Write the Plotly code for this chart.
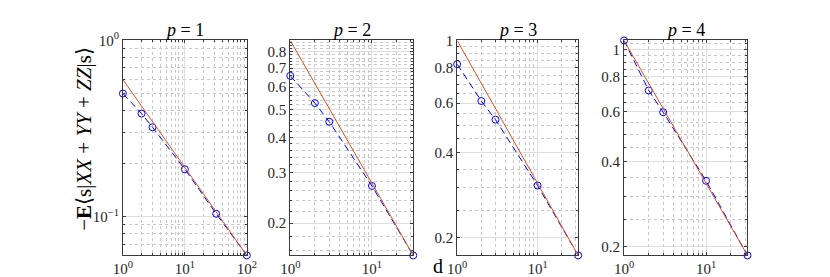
import plotly.graph_objects as go
import math

W, H = 830, 277

# ---------------- data ----------------
d_p1 = [1, 2, 3, 10, 32, 100]
d_rest = [1, 2, 3, 10, 32]

energy_p1 = [0.500, 0.385, 0.322, 0.186, 0.104, 0.0604]
energy_p2 = [0.658, 0.528, 0.454, 0.270, 0.154]
energy_p3 = [0.824, 0.610, 0.524, 0.306, 0.173]
energy_p4 = [1.076, 0.715, 0.599, 0.342, 0.186]

# reference power-law line, values at first and last d
ref_p1 = [0.600, 0.0604]
ref_p2 = [0.876, 0.154]
ref_p3 = [1.000, 0.173]
ref_p4 = [1.076, 0.186]

titles = ["p = 1", "p = 2", "p = 3", "p = 4"]

ytick_p1 = [0.1, 1.0]
ytext_p1 = ["10<sup>−1</sup>", "10<sup>0</sup>"]
ytick_p2 = [0.2, 0.3, 0.4, 0.5, 0.6, 0.7, 0.8]
ytick_p34 = [0.2, 0.4, 0.6, 0.8, 1.0]

xtick_vals = [1, 10, 100]
xtick_text = ["10<sup>0</sup>", "10<sup>1</sup>", "10<sup>2</sup>"]

# ---------------- styling / layout ----------------
FONT = "Liberation Serif"
AX_COL = "#3a3a3a"
GRID_COL = "#dedede"
MINOR_COL = "#c8c8c8"
BLUE = "#0000ff"
ORANGE = "#d95319"

panels = [
    dict(d=d_p1, e=energy_p1, ref=ref_p1, ylim=[0.0604, 1.0],
         yt=ytick_p1, ytt=ytext_p1,
         ymin=[k * 0.01 for k in range(6, 10)] + [k * 0.1 for k in range(2, 10)],
         px=(107.5, 234.5)),
    dict(d=d_rest, e=energy_p2, ref=ref_p2, ylim=[0.154, 0.876],
         yt=ytick_p2, ytt=[f"{v:.1f}" for v in ytick_p2],
         ymin=[round(k * 0.02, 2) for k in range(8, 44) if k % 5 != 0],
         px=(279, 405)),
    dict(d=d_rest, e=energy_p3, ref=ref_p3, ylim=[0.173, 1.0],
         yt=ytick_p34, ytt=["0.2", "0.4", "0.6", "0.8", "1"],
         ymin=[round(k * 0.05, 2) for k in range(4, 21) if k % 4 != 0],
         px=(450, 574)),
    dict(d=d_rest, e=energy_p4, ref=ref_p4, ylim=[0.186, 1.076],
         yt=ytick_p34, ytt=["0.2", "0.4", "0.6", "0.8", "1"],
         ymin=[round(k * 0.05, 2) for k in range(4, 22) if k % 4 != 0],
         px=(621, 747.5)),
]

top_px, bot_px = 23.3, 246.3
ydom = [1 - bot_px / H, 1 - top_px / H]

fig = go.Figure()
layout = dict(width=W, height=H, autosize=False,
              margin=dict(l=0, r=0, t=0, b=0),
              paper_bgcolor="white", plot_bgcolor="white",
              showlegend=False, font=dict(family=FONT, size=15, color="#262626"))
annotations = []

x_minor = [k * 10 ** e for e in range(0, 2) for k in range(2, 10)]

for i, p in enumerate(panels):
    n = "" if i == 0 else str(i + 1)
    xa, ya = "x" + n, "y" + n
    fig.add_trace(go.Scatter(
        x=p["d"], y=p["e"], xaxis=xa, yaxis=ya, mode="lines+markers",
        line=dict(color=BLUE, width=1, dash="7px,4px"),
        marker=dict(symbol="circle-open", size=7, color=BLUE, line=dict(width=1, color=BLUE)),
        cliponaxis=False))
    fig.add_trace(go.Scatter(
        x=[p["d"][0], p["d"][-1]], y=p["ref"], xaxis=xa, yaxis=ya, mode="lines",
        line=dict(color=ORANGE, width=1), cliponaxis=False))
    xdom = [p["px"][0] / W, p["px"][1] / W]
    common = dict(type="log", showline=True, linecolor=AX_COL, linewidth=1,
                  mirror="ticks", ticks="inside", ticklen=3, tickcolor=AX_COL,
                  showgrid=True, gridcolor=GRID_COL, gridwidth=1, zeroline=False,
                  tickfont=dict(family=FONT, size=15, color="#262626"),
                  fixedrange=True)
    layout["xaxis" + n] = dict(
        common, domain=xdom, anchor=ya,
        range=[math.log10(p["d"][0]), math.log10(p["d"][-1])],
        tickmode="array", tickvals=xtick_vals, ticktext=xtick_text,
        minor=dict(tickmode="array", tickvals=x_minor, showgrid=True,
                   gridcolor=MINOR_COL, griddash="dot", gridwidth=1,
                   ticks="inside", ticklen=2, tickcolor=AX_COL))
    layout["yaxis" + n] = dict(
        common, domain=ydom, anchor=xa,
        range=[math.log10(p["ylim"][0]), math.log10(p["ylim"][1])],
        tickmode="array", tickvals=p["yt"], ticktext=p["ytt"],
        minor=dict(tickmode="array", tickvals=p["ymin"], showgrid=True,
                   gridcolor=MINOR_COL, griddash="dot", gridwidth=1,
                   ticks="inside", ticklen=2, tickcolor=AX_COL))
    t = titles[i].split(" ", 1)
    annotations.append(dict(
        text=f"<i>{t[0]}</i> {t[1]}", x=(xdom[0] + xdom[1]) / 2, y=1 - 12 / H,
        xref="paper", yref="paper", showarrow=False, xanchor="center", yanchor="middle",
        font=dict(family=FONT, size=18, color="#000000")))

annotations.append(dict(
    text="−<b>E</b>⟨s|<i>XX</i> + <i>YY</i> + <i>ZZ</i>|s⟩",
    x=68 / W, y=1 - 125 / H, xref="paper", yref="paper", showarrow=False,
    textangle=-90, xanchor="center", yanchor="middle",
    font=dict(family=FONT, size=21, color="#000000")))
annotations.append(dict(
    text="d", x=430 / W, y=1 - 257 / H, xref="paper", yref="paper", showarrow=False,
    xanchor="center", yanchor="middle",
    font=dict(family=FONT, size=20, color="#000000")))

layout["annotations"] = annotations
fig.update_layout(**layout)
fig.write_html("out.html")
